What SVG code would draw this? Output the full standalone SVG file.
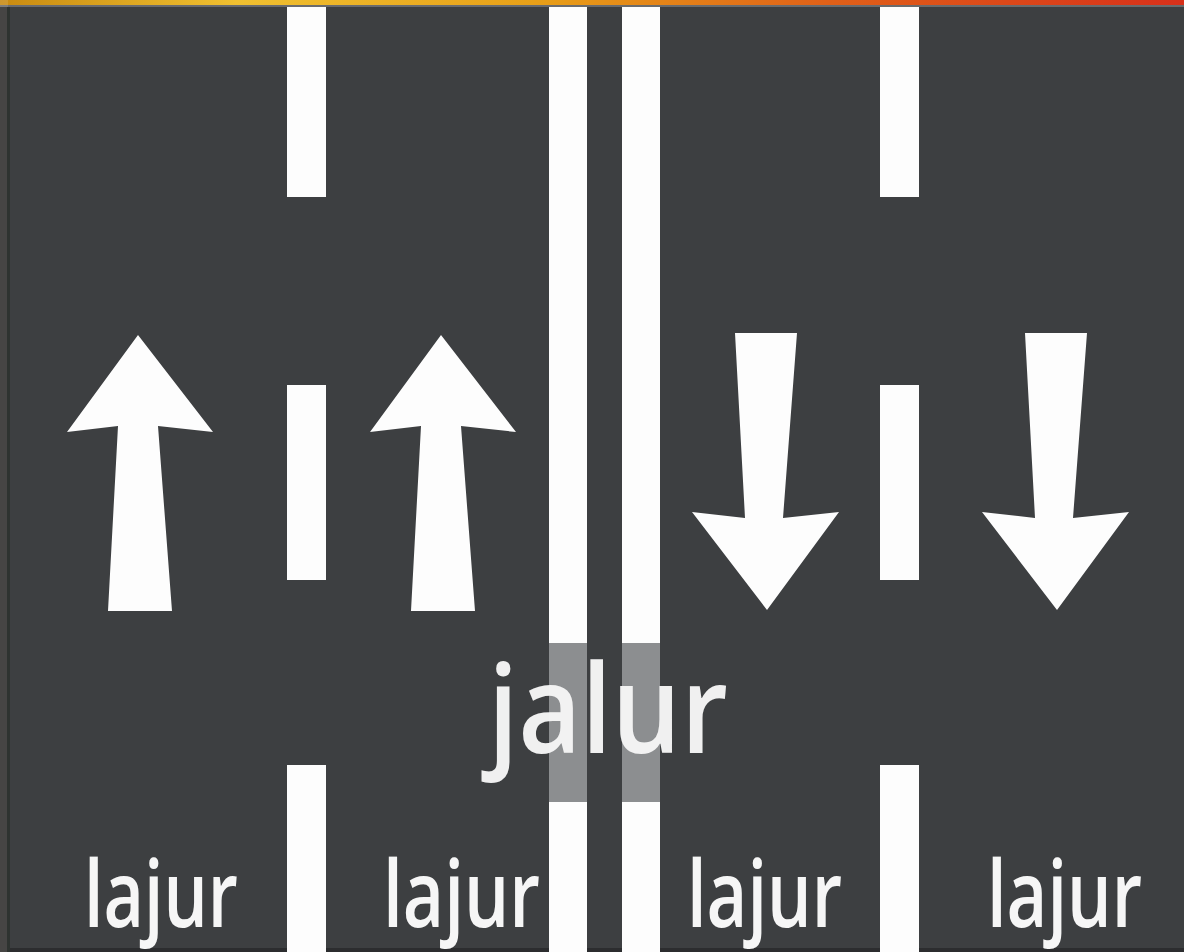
<svg xmlns="http://www.w3.org/2000/svg" width="1184" height="952" viewBox="0 0 1184 952">
  <defs>
    <linearGradient id="topbar" x1="0" y1="0" x2="1" y2="0">
      <stop offset="0" stop-color="#c98a10"/>
      <stop offset="0.2" stop-color="#f0c030"/>
      <stop offset="0.45" stop-color="#e8a018"/>
      <stop offset="0.7" stop-color="#e06018"/>
      <stop offset="1" stop-color="#d8301a"/>
    </linearGradient>
    <style>
      .road { fill: #3d3f41; }
      .mark { fill: #fdfdfd; }
      .hl { fill: #8c8e90; }
      .lbl { font-family: "Open Sans", "Liberation Sans", sans-serif; font-weight: 600; fill: #f6f6f6; }
    </style>
  </defs>

  <rect x="0" y="0" width="1184" height="952" fill="#2a2a2a"/>
  <rect x="0" y="0" width="1184" height="5" fill="url(#topbar)"/>
  <rect x="0" y="5" width="1184" height="2" fill="#6a6b6d"/>
  <rect x="0" y="0" width="8" height="952" fill="#e8e4e0" opacity="0.15"/>
  <rect x="7" y="7" width="3" height="945" fill="#2e3330"/>

  <g id="road">
    <rect class="road" x="10" y="7" width="1174" height="941"/>
    <rect x="10" y="948" width="1174" height="4" fill="#2c2d2f"/>
  </g>

  <g id="lane-markings">
    <rect class="mark" x="287" y="7" width="39" height="190"/>
    <rect class="mark" x="287" y="385" width="39" height="195"/>
    <rect class="mark" x="287" y="765" width="39" height="187"/>
    <rect class="mark" x="880" y="7" width="39" height="190"/>
    <rect class="mark" x="880" y="385" width="39" height="195"/>
    <rect class="mark" x="880" y="765" width="39" height="187"/>
  </g>

  <g id="center-lines">
    <rect class="mark" x="549" y="7" width="38" height="945"/>
    <rect class="mark" x="622" y="7" width="38" height="945"/>
    <rect class="hl" x="549" y="643" width="38" height="159"/>
    <rect class="hl" x="622" y="643" width="38" height="159"/>
  </g>

  <g id="arrow-up-1">
    <polygon class="mark" points="138,335 213,432 158,426 172,611 108,611 118,426 67,432"/>
  </g>
  <g id="arrow-up-2">
    <polygon class="mark" points="441,335 516,432 461,426 475,611 411,611 421,426 370,432"/>
  </g>
  <g id="arrow-down-1">
    <polygon class="mark" points="735,333 797,333 783,518 839,512 767,610 692,512 745,518"/>
  </g>
  <g id="arrow-down-2">
    <polygon class="mark" points="1025,333 1087,333 1073,518 1129,512 1057,610 982,512 1035,518"/>
  </g>

  <g id="label-jalur">
    <text class="lbl" x="488" y="753" font-size="124" textLength="240" lengthAdjust="spacingAndGlyphs" opacity="0.97">jalur</text>
  </g>
  <g id="label-lajur-1">
    <text class="lbl" x="84" y="927" font-size="92" textLength="154" lengthAdjust="spacingAndGlyphs">lajur</text>
  </g>
  <g id="label-lajur-2">
    <text class="lbl" x="383" y="927" font-size="92" textLength="157" lengthAdjust="spacingAndGlyphs">lajur</text>
  </g>
  <g id="label-lajur-3">
    <text class="lbl" x="687" y="927" font-size="92" textLength="155" lengthAdjust="spacingAndGlyphs">lajur</text>
  </g>
  <g id="label-lajur-4">
    <text class="lbl" x="987" y="927" font-size="92" textLength="155" lengthAdjust="spacingAndGlyphs">lajur</text>
  </g>
</svg>
